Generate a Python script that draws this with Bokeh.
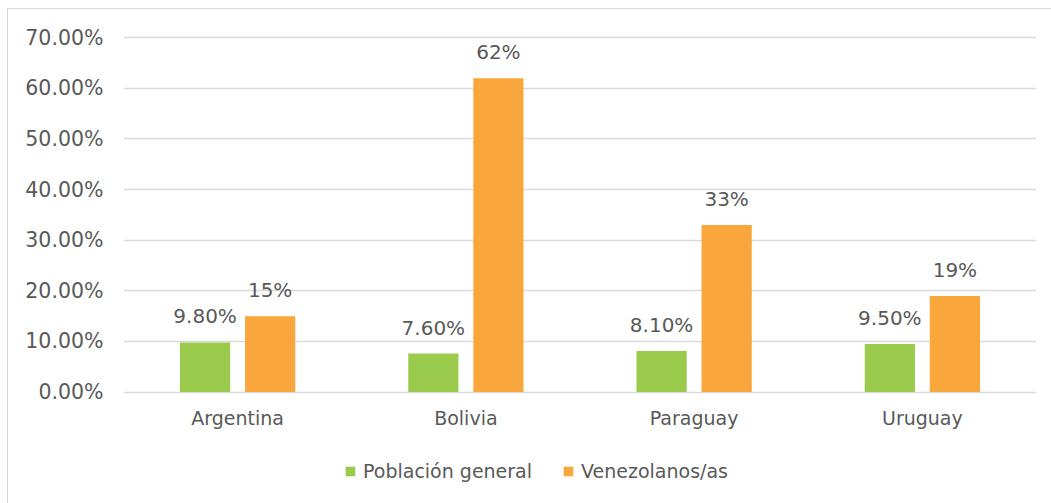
from bokeh.plotting import figure
from bokeh.models import (ColumnDataSource, FactorRange, FixedTicker, NumeralTickFormatter,
                          Legend, LegendItem)
from bokeh.transform import dodge
from bokeh.core.properties import value
from bokeh.embed import file_html
from bokeh.resources import INLINE

countries = ["Argentina", "Bolivia", "Paraguay", "Uruguay"]
general = [0.098, 0.076, 0.081, 0.095]
venez = [0.15, 0.62, 0.33, 0.19]
general_labels = ["9.80%", "7.60%", "8.10%", "9.50%"]
venez_labels = ["15%", "62%", "33%", "19%"]
series_names = ["Población general", "Venezolanos/as"]
y_ticks = [0, 0.1, 0.2, 0.3, 0.4, 0.5, 0.6, 0.7]

FONT = "DejaVu Sans"
TXT = "#595959"
GREEN = "#9BCB4C"
ORANGE = "#F9A73D"

src = ColumnDataSource(dict(c=countries, g=general, v=venez, gl=general_labels, vl=venez_labels))

p = figure(x_range=FactorRange(factors=countries, range_padding=0), y_range=(-0.218, 0.72),
           width=1044, height=498, output_backend="svg", toolbar_location=None,
           min_border_left=115, min_border_right=16, min_border_top=18, min_border_bottom=5)
p.styles = {"border-left": "1px solid #D9D9D9", "border-top": "1px solid #D9D9D9",
            "margin-left": "7px", "margin-top": "8px"}
p.outline_line_color = None
p.background_fill_color = "white"
p.border_fill_color = "white"

off = 0.1425
w = 0.22
r1 = p.vbar(x=dodge("c", -off, range=p.x_range), top="g", width=w, source=src,
            fill_color=GREEN, line_color=None)
r2 = p.vbar(x=dodge("c", off, range=p.x_range), top="v", width=w, source=src,
            fill_color=ORANGE, line_color=None)

common = dict(source=src, text_font=value(FONT), text_font_size="20px", text_color=TXT,
              text_align="center", text_baseline="alphabetic", y_offset=-26)
p.text(x=dodge("c", -off, range=p.x_range), y="g", text="gl", **common)
p.text(x=dodge("c", off, range=p.x_range), y="v", text="vl", **common)

p.xgrid.grid_line_color = None
p.ygrid.grid_line_color = "#D9D9D9"
p.ygrid.grid_line_width = 1.3
p.yaxis.ticker = FixedTicker(ticks=y_ticks)
p.yaxis.formatter = NumeralTickFormatter(format="0.00%")
p.xaxis.fixed_location = 0
for ax in (p.xaxis[0], p.yaxis[0]):
    ax.axis_line_color = None
    ax.major_tick_line_color = None
    ax.minor_tick_line_color = None
    ax.major_label_text_font = FONT
    ax.major_label_text_font_size = "19px"
    ax.major_label_text_color = TXT
p.yaxis.major_label_text_font_size = "20.5px"
p.yaxis.major_label_standoff = 14
p.xaxis.major_label_standoff = 9

legend = Legend(items=[LegendItem(label=series_names[0], renderers=[r1]),
                       LegendItem(label=series_names[1], renderers=[r2])],
                location=(221, 20), orientation="horizontal",
                border_line_color=None, background_fill_alpha=0,
                label_text_font=FONT, label_text_font_size="19px", label_text_color=TXT,
                glyph_width=12, glyph_height=12, label_standoff=7, spacing=30,
                padding=0, margin=0)
p.add_layout(legend, "center")

open("out.html", "w").write(file_html(p, INLINE))
